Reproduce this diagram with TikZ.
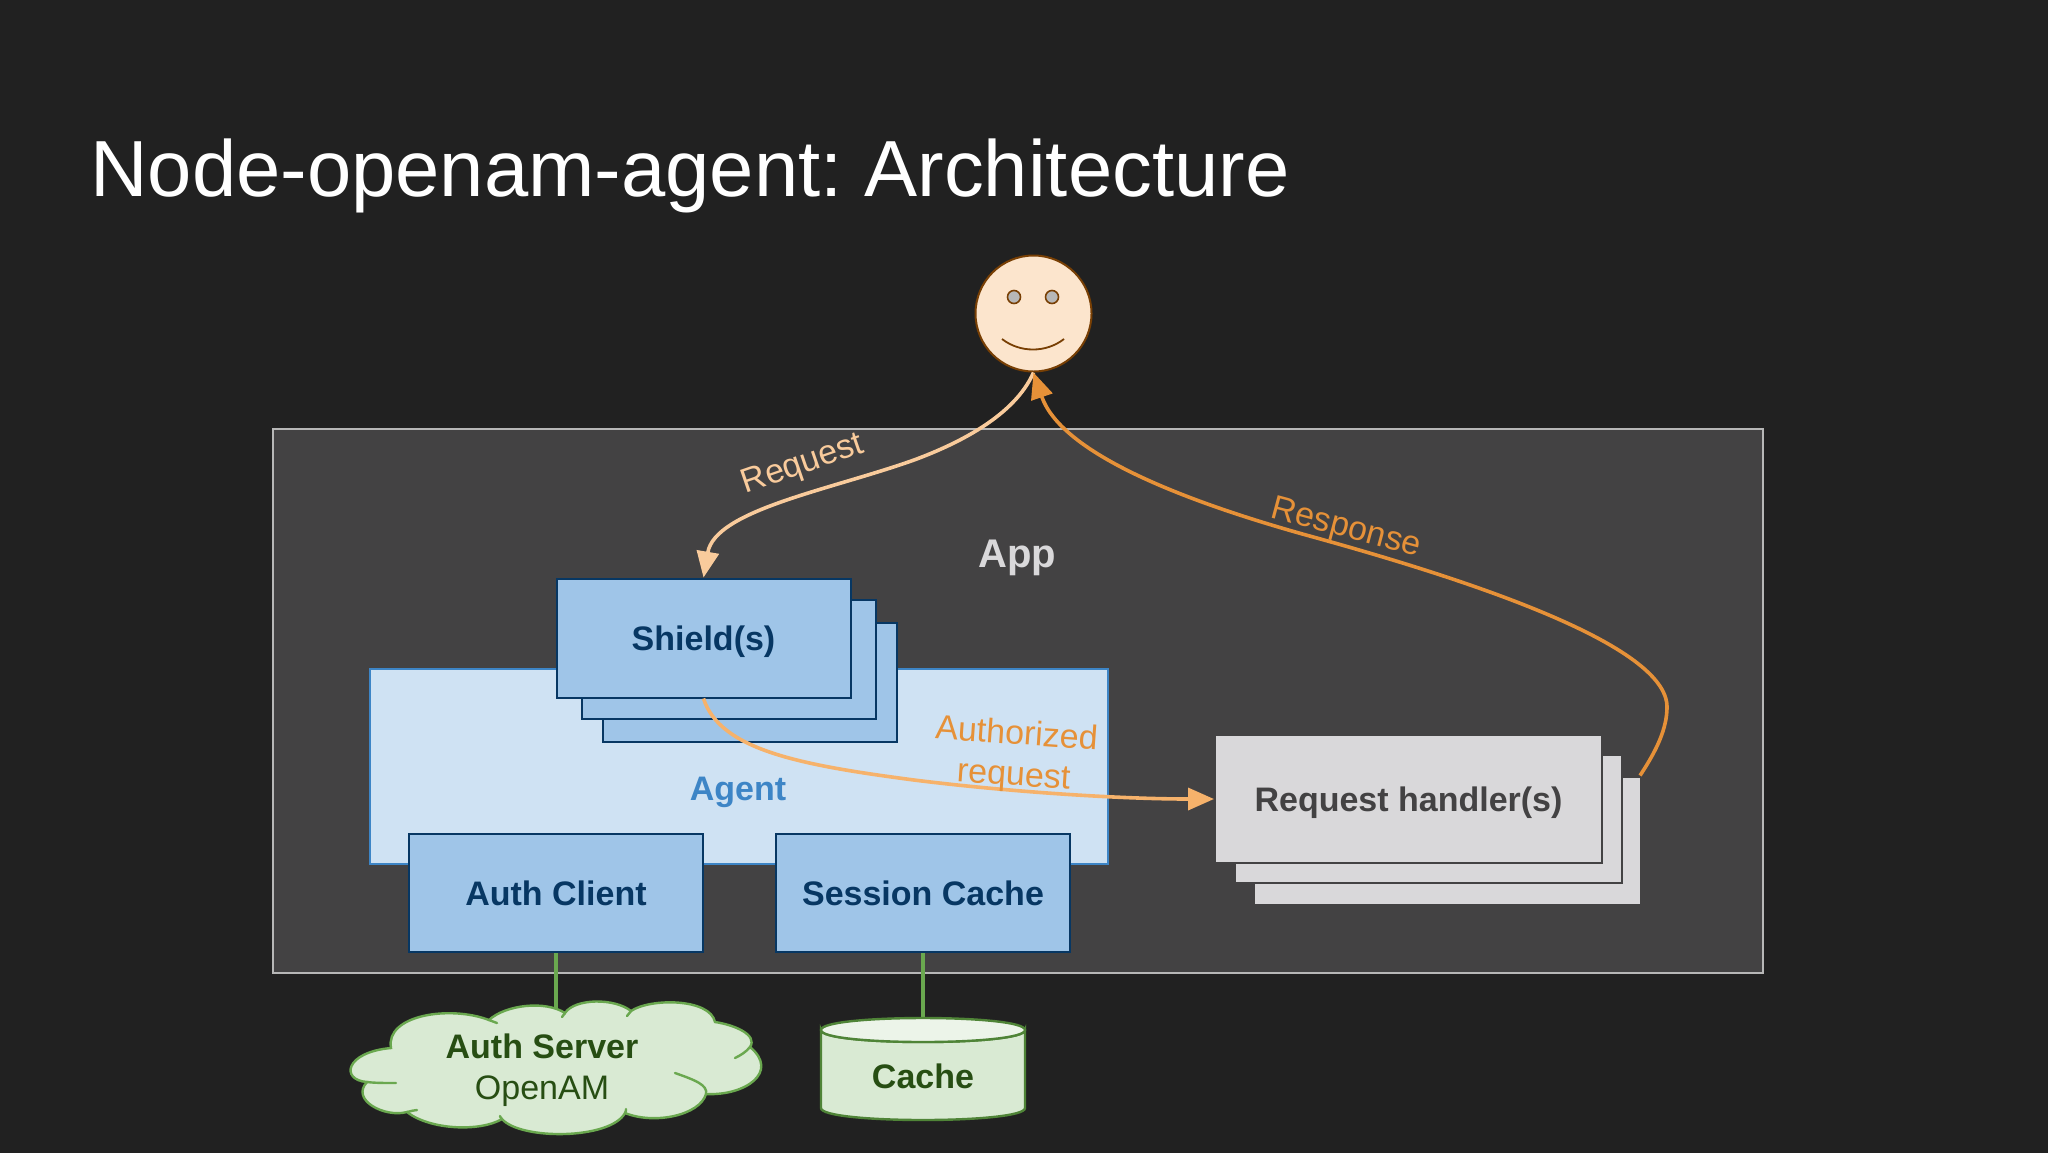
\documentclass[tikz,border=0pt]{standalone}
\usepackage{fontspec}
\setmainfont{Liberation Sans}
\usetikzlibrary{arrows.meta}
\definecolor{bgdark}{HTML}{212121}
\definecolor{appfill}{HTML}{434243}
\definecolor{appline}{HTML}{B7B7B7}
\definecolor{agentfill}{HTML}{CFE2F3}
\definecolor{agentline}{HTML}{3D85C6}
\definecolor{boxfill}{HTML}{9FC5E8}
\definecolor{boxline}{HTML}{073763}
\definecolor{handfill}{HTML}{D9D8DA}
\definecolor{greenfill}{HTML}{D9EAD3}
\definecolor{greenline}{HTML}{6AA84F}
\definecolor{greentext}{HTML}{274E13}
\definecolor{facefill}{HTML}{FCE5CD}
\definecolor{faceline}{HTML}{783F04}
\definecolor{reqcol}{HTML}{F9CB9C}
\definecolor{respcol}{HTML}{E69138}
\definecolor{authcol}{HTML}{F6B26B}
\tikzset{
	bluebox/.style={draw=boxline,fill=boxfill,line width=1pt,text=boxline,font=\fontsize{17}{20}\selectfont\bfseries,inner sep=0pt,text height=12.2pt,text depth=0pt},
	shieldbox/.style={bluebox,minimum width=147pt,minimum height=59.5pt},
	clientbox/.style={bluebox,minimum width=147pt,minimum height=59pt},
	handlerbox/.style={draw=appfill,fill=handfill,line width=1pt,text=appfill,font=\fontsize{17}{20}\selectfont\bfseries,minimum width=193.5pt,minimum height=64pt,inner sep=0pt,text height=12.2pt,text depth=0pt},
	label/.style={font=\fontsize{17}{20.5}\selectfont,inner sep=0pt},
	boldlabel/.style={font=\fontsize{17}{20}\selectfont\bfseries,inner sep=0pt},
	flow/.style={line width=1.8pt,-{Triangle[length=13pt,width=11pt]}},
	link/.style={draw=greenline,line width=1.6pt},
	cloudline/.style={draw=greenline,line width=1.2pt,line cap=round},
	cacheline/.style={draw=greenline!60!greentext,line width=1.2pt}
}
\begin{document}
\frenchspacing
\begin{tikzpicture}[x=0.5pt,y=-0.5pt]
	\useasboundingbox (0,0) rectangle (2048,1152);
	\fill[bgdark] (-5,-5) rectangle (2053,1157);

	\node[anchor=base west,inner sep=0pt,text=white,font=\fontsize{39.8}{44}\selectfont] (title) at (90,196) {Node-openam-agent: Architecture};

	% app frame
	\node[draw=appline,fill=appfill,line width=1pt,minimum width=745pt,minimum height=272pt,inner sep=0pt] (app) at (1018,700.5) {};
	\node[boldlabel,text=handfill,font=\fontsize{20}{24}\selectfont\bfseries] (applabel) at (1017,558) {App};

	% agent and its parts
	\node[draw=agentline,fill=agentfill,line width=1pt,minimum width=369pt,minimum height=97.5pt,inner sep=0pt] (agent) at (738.5,766.5) {};
	\node[boldlabel,text=agentline] (agentlabel) at (738,792) {Agent};
	\node[clientbox] (auth) at (556,893) {Auth Client};
	\node[clientbox] (session) at (923,893) {Session Cache};

	\node[shieldbox] (shield3) at (750,682.5) {};
	\node[shieldbox] (shield2) at (729,659) {};
	\node[shieldbox] (shield1) at (703.5,638) {Shield(s)};

	\node[handlerbox] (handler3) at (1447.5,840.5) {};
	\node[handlerbox] (handler2) at (1428.5,819) {};
	\node[handlerbox] (handler1) at (1408.5,799) {Request handler(s)};

	% cloud
	\coordinate (cloudtop) at (556,1010);
	\draw[link] (auth) -- (cloudtop);
	\draw[cloudline,fill=greenfill] (391,1048)
		.. controls (345,1052) and (340,1080) .. (367,1082)
		.. controls (350,1100) and (385,1118) .. (407,1112)
		.. controls (430,1130) and (480,1132) .. (502,1119)
		.. controls (520,1140) and (610,1140) .. (625,1113)
		.. controls (655,1125) and (700,1115) .. (706,1094)
		.. controls (745,1096) and (780,1072) .. (750,1047)
		.. controls (758,1035) and (735,1025) .. (715,1022)
		.. controls (710,998) and (650,998) .. (631,1011)
		.. controls (615,998) and (575,998) .. (565,1013)
		.. controls (545,1000) and (505,1005) .. (489,1020)
		.. controls (450,1005) and (385,1015) .. (391,1048) -- cycle;
	\draw[cloudline] (367,1082) .. controls (375,1083) and (385,1083) .. (396,1083);
	\draw[cloudline] (407,1112) .. controls (412,1111) and (414,1110) .. (417,1110);
	\draw[cloudline] (502,1119) .. controls (501,1118) and (500,1117) .. (500,1116);
	\draw[cloudline] (625,1113) .. controls (626,1112) and (626,1110) .. (626,1109);
	\draw[cloudline] (706,1094) .. controls (708,1085) and (695,1080) .. (675,1073);
	\draw[cloudline] (750,1047) .. controls (746,1052) and (741,1055) .. (735,1058);
	\draw[cloudline] (631,1011) -- (627,1016);
	\draw[cloudline] (565,1013) -- (562,1017);
	\draw[cloudline] (489,1020) -- (497,1023);
	\node[inner sep=0pt,align=center,text=greentext,font=\fontsize{17}{20.5}\selectfont] (authsrv) at (542,1070) {\textbf{Auth Server}\\OpenAM};

	% cache
	\node[minimum width=102pt,minimum height=51pt,inner sep=0pt] (cache) at (923,1069) {};
	\draw[link] (session) -- (cache.north);
	\draw[cacheline,fill=greenfill] (821,1030) -- (821,1108)
		.. controls (821,1124) and (1025,1124) .. (1025,1108) -- (1025,1030)
		.. controls (1025,1046) and (821,1046) .. (821,1030) -- cycle;
	\draw[cacheline,fill=greenfill!50!white] (821,1030)
		.. controls (821,1014) and (1025,1014) .. (1025,1030)
		.. controls (1025,1046) and (821,1046) .. (821,1030) -- cycle;
	\node[boldlabel,text=greentext] (cachelabel) at (923,1076) {Cache};

	% face
	\node[circle,draw=faceline,fill=facefill,line width=1pt,minimum size=58pt,inner sep=0pt] (face) at (1033.5,313.5) {};
	\node[circle,draw=faceline,fill=appline,line width=0.8pt,minimum size=6.5pt,inner sep=0pt] (eyeL) at (1014,297) {};
	\node[circle,draw=faceline,fill=appline,line width=0.8pt,minimum size=6.5pt,inner sep=0pt] (eyeR) at (1052,297) {};
	\draw[faceline,line width=0.9pt] (1002,339) .. controls (1020,353) and (1046,353) .. (1064,339);

	% flows
	\draw[flow,authcol] (shield1.south) .. controls (720,750) and (800,765) .. (914,780)
		.. controls (1010,792) and (1120,799) .. (handler1.west);
	\draw[flow,reqcol] (face.south) .. controls (1015,415) and (960,443) .. (914,460)
		.. controls (830,490) and (715,510) .. (shield1.north);
	\draw[flow,respcol] (handler3.north east) ++(-2,0) .. controls (1657,750) and (1667,728) .. (1667,707)
		.. controls (1667,645) and (1470,580) .. (1306,535)
		.. controls (1170,497) and (1060,450) .. (face.south);

	\node[label,text=reqcol,rotate=19] (reqlabel) at (803,465) {Request};
	\node[label,text=respcol,rotate=-15] (resplabel) at (1346,529) {Response};
	\node[label,text=respcol,rotate=-4,align=center] (authlabel) at (1015,756) {Authorized\\request};
\end{tikzpicture}
\end{document}
